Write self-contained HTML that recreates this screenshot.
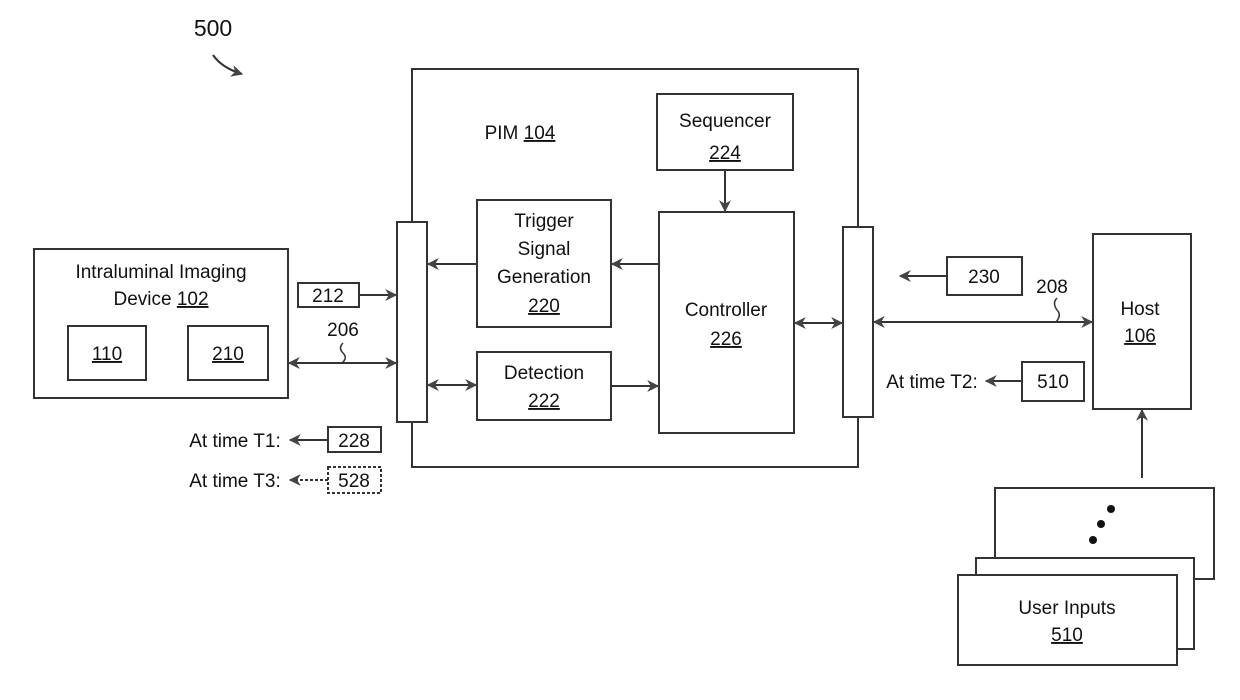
<!DOCTYPE html>
<html><head><meta charset="utf-8"><style>
html,body{margin:0;padding:0;background:#fff}
svg text{font-family:"Liberation Sans",sans-serif;fill:#111}
</style></head><body>
<svg width="1240" height="695" viewBox="0 0 1240 695" xmlns="http://www.w3.org/2000/svg">
<defs>
<marker id="a" viewBox="0 0 10 10" refX="9" refY="5" markerWidth="12" markerHeight="12" orient="auto-start-reverse" markerUnits="userSpaceOnUse">
<path d="M0,0 L10,5 L0,10 L3,5 Z" fill="#444"/></marker>
</defs>
<g fill="none" stroke="#333" stroke-width="2">
<path d="M213,55 Q222,68 242,74" marker-end="url(#a)"/>
<path d="M412,222 V69 H858 V227 M858,417 V467 H412 V422"/>
<rect x="397" y="222" width="30" height="200" fill="#fff"/>
<rect x="843" y="227" width="30" height="190" fill="#fff"/>
<rect x="657" y="94" width="136" height="76"/>
<rect x="477" y="200" width="134" height="127"/>
<rect x="477" y="352" width="134" height="68"/>
<rect x="659" y="212" width="135" height="221"/>
<rect x="34" y="249" width="254" height="149"/>
<rect x="68" y="326" width="78" height="54"/>
<rect x="188" y="326" width="80" height="54"/>
<rect x="298" y="283" width="61" height="24"/>
<rect x="328" y="427" width="53" height="25"/>
<rect x="328" y="467" width="53" height="26" stroke-dasharray="3,2"/>
<rect x="947" y="257" width="75" height="38"/>
<rect x="1022" y="362" width="62" height="39"/>
<rect x="1093" y="234" width="98" height="175"/>
<rect x="995" y="488" width="219" height="91" fill="#fff"/>
<rect x="976" y="558" width="218" height="91" fill="#fff"/>
<rect x="958" y="575" width="219" height="90" fill="#fff"/>
<line x1="725" y1="170" x2="725" y2="211" marker-end="url(#a)"/>
<line x1="477" y1="264" x2="428" y2="264" marker-end="url(#a)"/>
<line x1="659" y1="264" x2="612" y2="264" marker-end="url(#a)"/>
<line x1="428" y1="385" x2="476" y2="385" marker-start="url(#a)" marker-end="url(#a)"/>
<line x1="611" y1="386" x2="658" y2="386" marker-end="url(#a)"/>
<line x1="795" y1="323" x2="842" y2="323" marker-start="url(#a)" marker-end="url(#a)"/>
<line x1="874" y1="322" x2="1092" y2="322" marker-start="url(#a)" marker-end="url(#a)"/>
<line x1="359" y1="295" x2="396" y2="295" marker-end="url(#a)"/>
<line x1="289" y1="363" x2="396" y2="363" marker-start="url(#a)" marker-end="url(#a)"/>
<line x1="947" y1="276" x2="900" y2="276" marker-end="url(#a)"/>
<line x1="1022" y1="381" x2="986" y2="381" marker-end="url(#a)"/>
<line x1="328" y1="440" x2="290" y2="440" marker-end="url(#a)"/>
<line x1="328" y1="480" x2="290" y2="480" stroke-dasharray="3,2" marker-end="url(#a)"/>
<line x1="1142" y1="478" x2="1142" y2="410" marker-end="url(#a)"/>
<path d="M343,343 q-5,5 0,10 q5,5 -1,10" stroke-width="1.5"/>
<path d="M1057,298 q-5,5 0,12 q5,5 -1,12" stroke-width="1.5"/>
</g>
<g fill="#111"><circle cx="1111" cy="509" r="4"/><circle cx="1101" cy="524" r="4"/><circle cx="1093" cy="540" r="4"/></g>
<g font-size="19" text-anchor="middle">
<text x="213" y="36" font-size="23">500</text>
<text x="520" y="139">PIM <tspan text-decoration="underline">104</tspan></text>
<text x="725" y="127">Sequencer</text>
<text x="725" y="159" text-decoration="underline">224</text>
<text x="544" y="227">Trigger</text>
<text x="544" y="255">Signal</text>
<text x="544" y="283">Generation</text>
<text x="544" y="312" text-decoration="underline">220</text>
<text x="544" y="379">Detection</text>
<text x="544" y="407" text-decoration="underline">222</text>
<text x="726" y="316">Controller</text>
<text x="726" y="345" text-decoration="underline">226</text>
<text x="161" y="278">Intraluminal Imaging</text>
<text x="161" y="305">Device <tspan text-decoration="underline">102</tspan></text>
<text x="107" y="360" text-decoration="underline">110</text>
<text x="228" y="360" text-decoration="underline">210</text>
<text x="328" y="302">212</text>
<text x="343" y="336">206</text>
<text x="235" y="447">At time T1:</text>
<text x="354" y="447">228</text>
<text x="235" y="487">At time T3:</text>
<text x="354" y="487">528</text>
<text x="984" y="283">230</text>
<text x="1052" y="293">208</text>
<text x="1140" y="315">Host</text>
<text x="1140" y="342" text-decoration="underline">106</text>
<text x="932" y="388">At time T2:</text>
<text x="1053" y="388">510</text>
<text x="1067" y="614">User Inputs</text>
<text x="1067" y="641" text-decoration="underline">510</text>
</g>
</svg>
</body></html>
